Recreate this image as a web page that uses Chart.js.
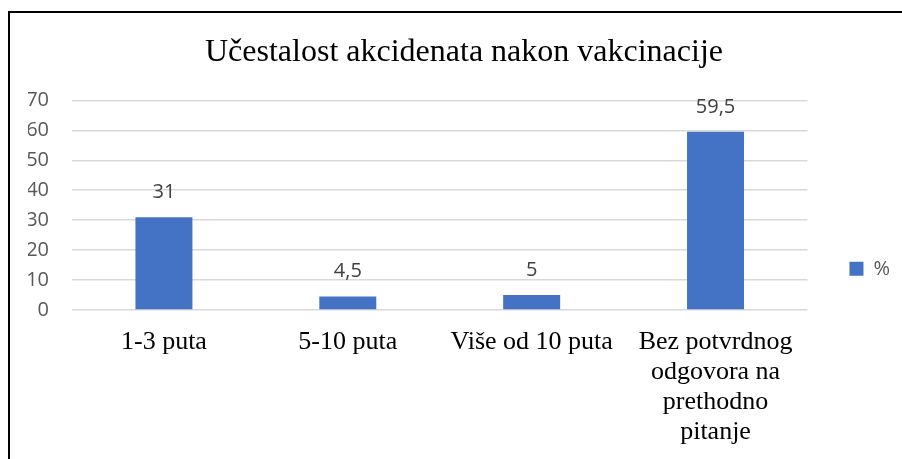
<!DOCTYPE html>
<html>
<head>
<meta charset="utf-8">
<script src="https://cdn.jsdelivr.net/npm/chart.js@4.4.1/dist/chart.umd.min.js"></script>
<style>
  html, body { margin: 0; padding: 0; background: #fff; overflow: hidden; }
  #wrap { position: relative; width: 902px; height: 459px; }
  #frame { position: absolute; left: 8px; top: 11px; width: 1000px; height: 1000px; border: 2px solid #000; box-sizing: border-box; }
  canvas { position: absolute; left: 0; top: 0; }
</style>
</head>
<body>
<div id="wrap">
  <div id="frame"></div>
  <canvas id="myChart" width="902" height="459"></canvas>
</div>
<script>
const categories = [
    '1-3 puta',
    '5-10 puta',
    'Više od 10 puta',
    ['Bez potvrdnog', 'odgovora na', 'prethodno', 'pitanje']
];
const values = [31, 4.5, 5, 59.5];
const seriesName = '%';
const chartTitle = 'Učestalost akcidenata nakon vakcinacije';

const serif = '"Liberation Serif", "Times New Roman", serif';
const sans = '"Open Sans", sans-serif';
Chart.defaults.font.family = serif;

// draws the value above each bar, comma as decimal sign
const valueLabels = {
    id: 'valueLabels',
    afterDatasetsDraw(chart) {
        const ctx = chart.ctx;
        const meta = chart.getDatasetMeta(0);
        ctx.save();
        ctx.font = '20px ' + sans;
        ctx.fillStyle = '#404040';
        ctx.textAlign = 'center';
        ctx.textBaseline = 'middle';
        meta.data.forEach((bar, i) => {
            const txt = String(values[i]).replace('.', ',');
            ctx.fillText(txt, bar.x, bar.y - 25);
        });
        ctx.restore();
    }
};

const canvas_ = document.getElementById('myChart');
const ctx_ = canvas_.getContext('2d');

var myChart = new Chart(ctx_, {
    type: 'bar',
    data: {
        labels: categories,
        datasets: [{
            label: seriesName,
            data: values,
            backgroundColor: '#4472C4',
            borderWidth: 0,
            categoryPercentage: 1,
            barPercentage: 0.31
        }]
    },
    options: {
        responsive: false,
        animation: false,
        layout: { padding: { left: 28, right: 2, top: 0, bottom: -5 } },
        plugins: {
            title: {
                display: true,
                text: chartTitle,
                color: '#000',
                font: { family: serif, size: 32, weight: 'normal', lineHeight: 1.2 },
                padding: { top: 33, bottom: 29 }
            },
            legend: {
                position: 'right',
                align: 'center',
                title: {
                    display: true,
                    text: ' ',
                    font: { family: sans, size: 18, lineHeight: 1.2 },
                    padding: { top: 0, bottom: 52 }
                },
                labels: {
                    boxWidth: 14,
                    boxHeight: 14,
                    padding: 42,
                    color: '#595959',
                    font: { family: sans, size: 20 }
                }
            },
            tooltip: { enabled: false }
        },
        scales: {
            x: {
                grid: { display: false, drawTicks: false },
                border: { display: false },
                ticks: {
                    color: '#000',
                    maxRotation: 0,
                    autoSkip: false,
                    padding: 17,
                    font: { family: serif, size: 26, lineHeight: 1.154 }
                }
            },
            y: {
                min: 0,
                max: 70,
                afterFit(scale) { scale.width = 44; },
                grid: { color: '#d9d9d9', lineWidth: 1.5, drawTicks: false },
                border: { display: false },
                ticks: {
                    stepSize: 10,
                    padding: 23,
                    color: '#595959',
                    font: { family: sans, size: 20 }
                }
            }
        }
    },
    plugins: [valueLabels]
});
</script>
</body>
</html>
